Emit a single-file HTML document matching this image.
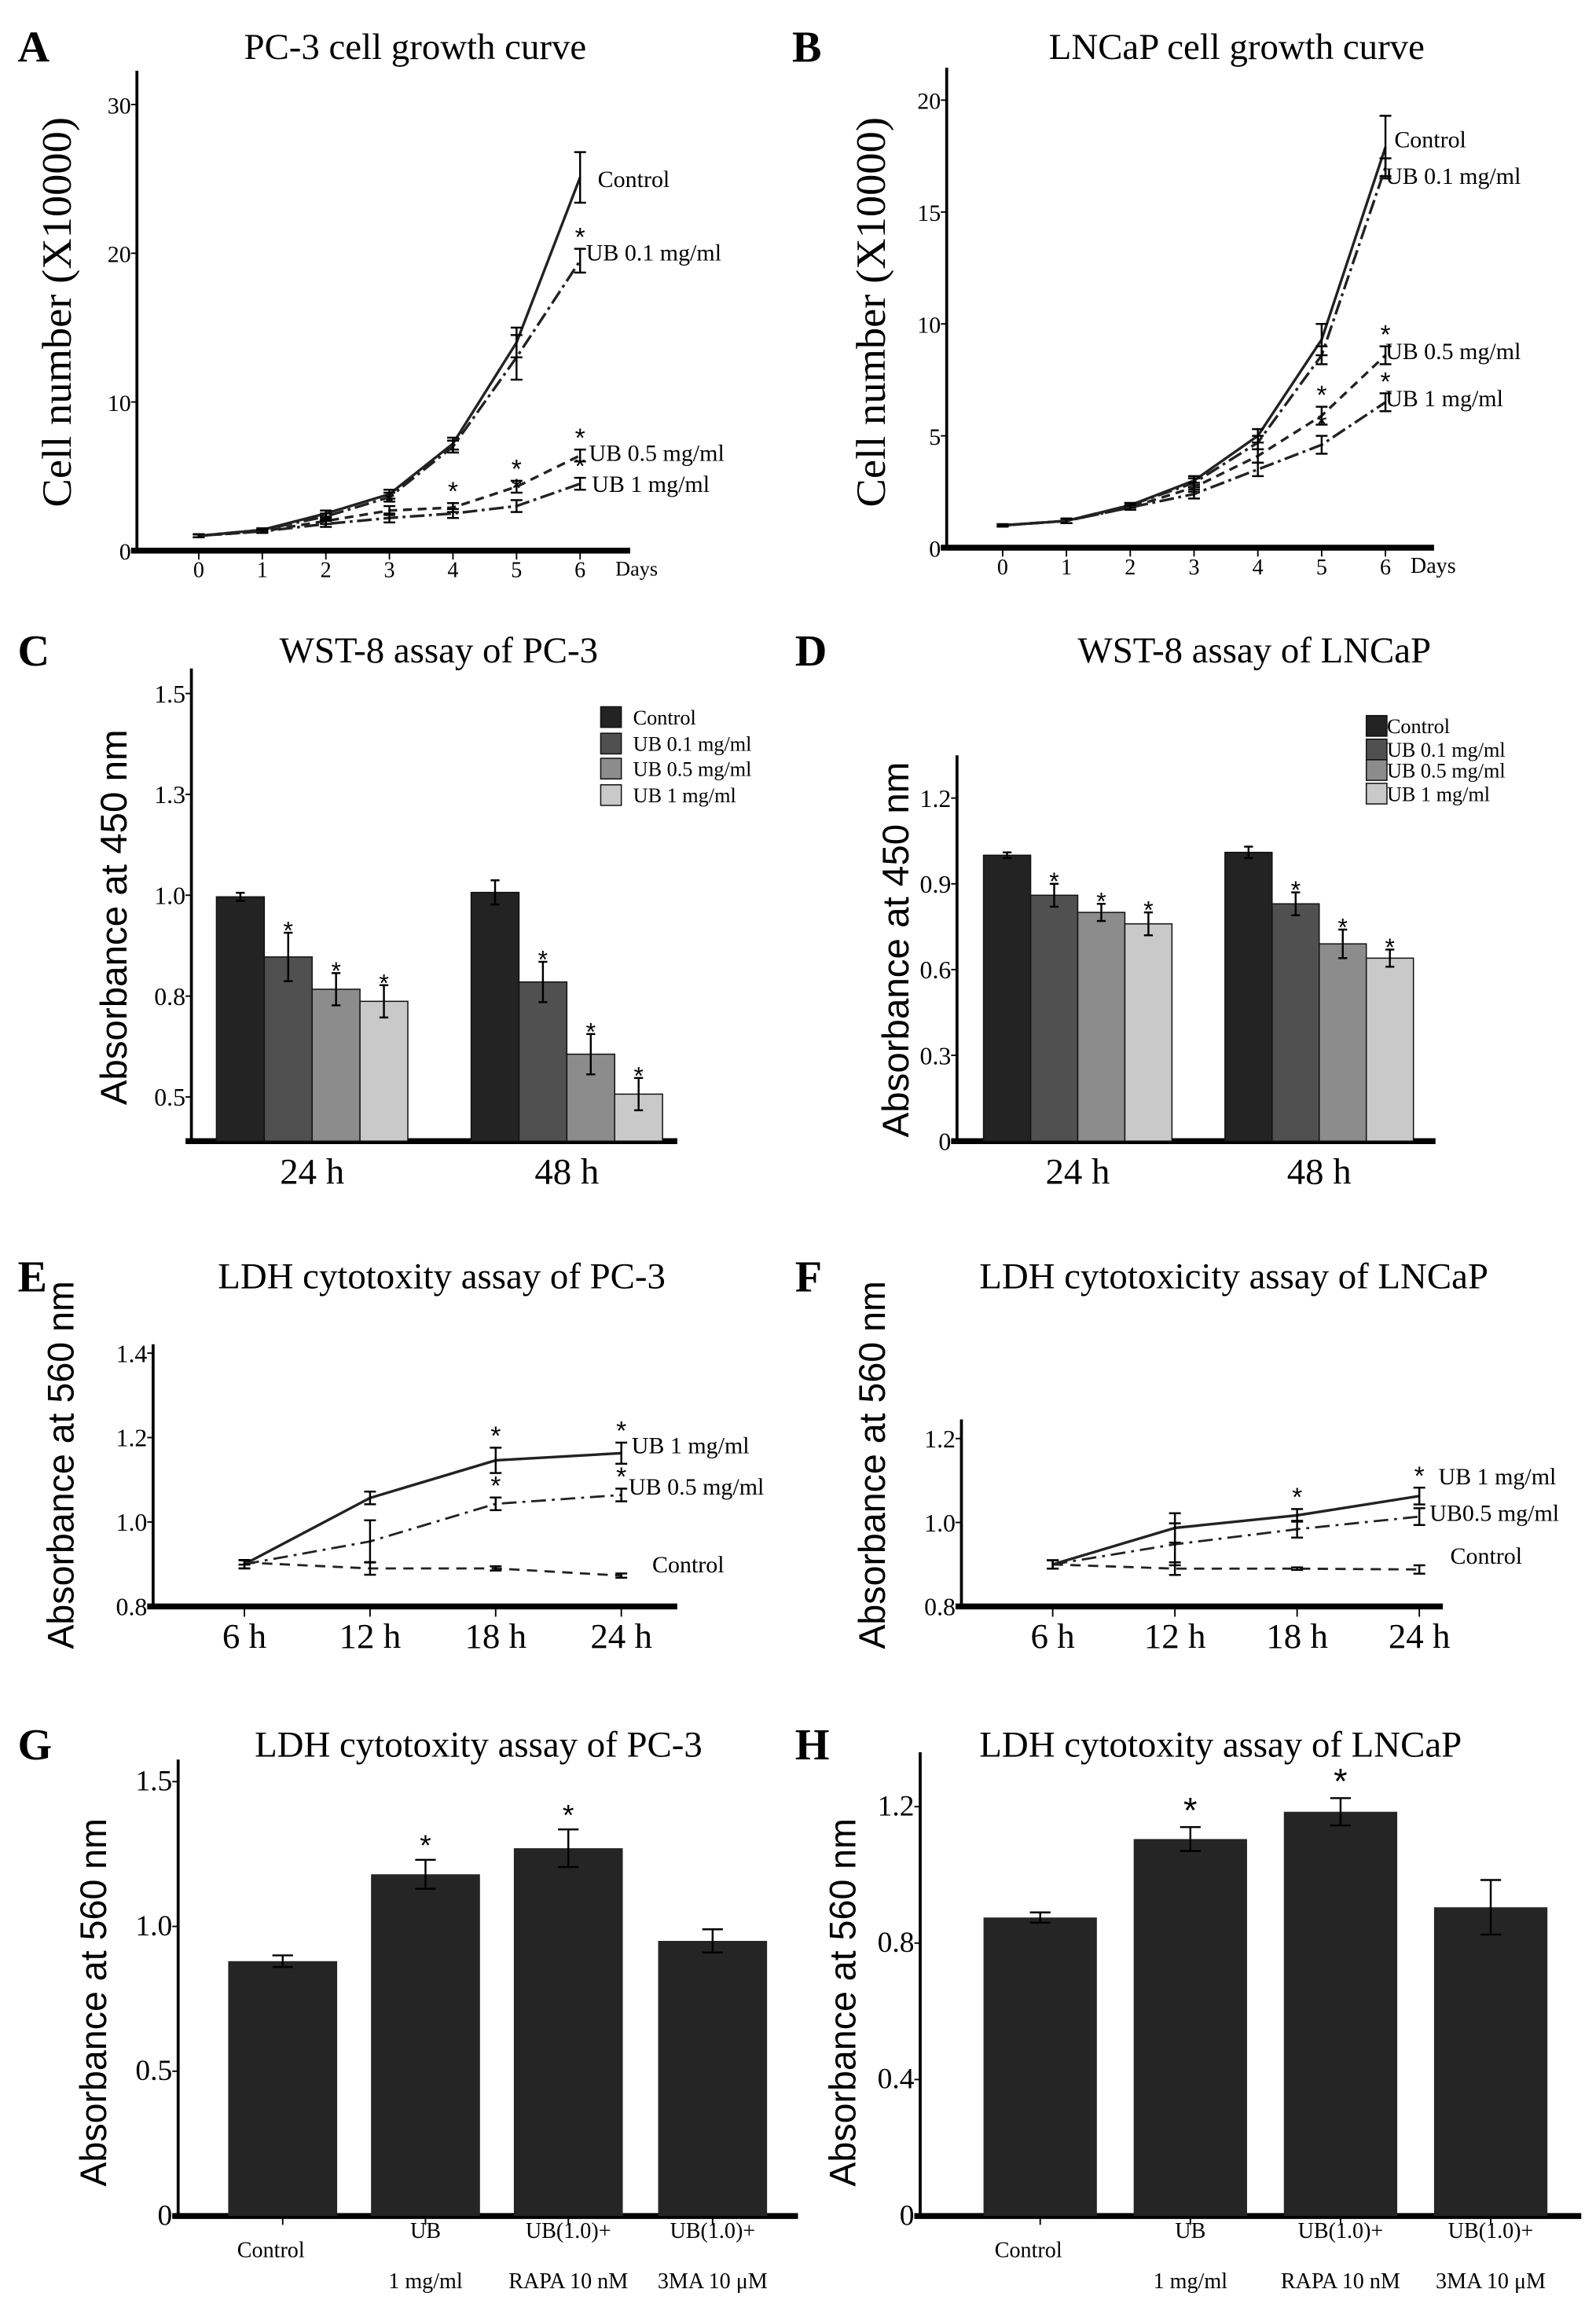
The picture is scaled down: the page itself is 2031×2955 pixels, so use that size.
<!DOCTYPE html>
<html><head><meta charset="utf-8"><style>
html,body{margin:0;padding:0;background:#fff;}
svg{display:block;font-family:"Liberation Serif",serif;}
</style></head><body>
<svg id="fig" width="2031" height="2955" viewBox="0 0 1084 1577" preserveAspectRatio="none" xmlns="http://www.w3.org/2000/svg">
<rect x="0" y="0" width="1084" height="1577" fill="#fff"/>
<g font-weight="bold" font-size="30">
<text x="12" y="42">A</text>
<text x="538" y="42">B</text>
<text x="12" y="452">C</text>
<text x="540" y="452">D</text>
<text x="12" y="877">E</text>
<text x="540" y="877">F</text>
<text x="12" y="1195">G</text>
<text x="540" y="1195">H</text>
</g>
</svg>
<script>
// ---- Panel A data ----
const daysA = [0,1,2,3,4,5,6];
const aControl = [1,1.4,2.5,3.8,7.2,14,25.1];
const aUb01 = [1,1.4,2.3,3.6,7.0,13,19.5];
const aUb05 = [1,1.3,2.0,2.7,2.9,4.3,6.4];
const aUb1 = [1,1.3,1.8,2.2,2.5,3.0,4.5];
const aErrControl = [0.1,0.1,0.2,0.3,0.4,1.0,1.7];
const aErrUb01 = [0.1,0.1,0.2,0.3,0.4,1.5,0.8];
const aErrSmall = [0.1,0.1,0.2,0.3,0.3,0.4,0.4];
const aTicks = [0,10,20,30];
// ---- Panel B data ----
const bControl = [1,1.2,1.9,3,5,9.3,17.9];
const bUb01 = [1,1.2,1.9,2.9,4.7,8.6,17];
const bUb05 = [1,1.2,1.8,2.7,4.1,5.9,8.6];
const bUb1 = [1,1.2,1.8,2.4,3.5,4.6,6.5];
const bErrControl = [0.05,0.1,0.1,0.2,0.3,0.7,1.4];
const bErrSmall = [0.05,0.1,0.1,0.2,0.3,0.4,0.4];
const bTicks = [0,5,10,15,20];
// ---- Panel C data ----
const cGroups = ["24 h","48 h"];
const cControl = [0.996,1.007];
const cUb01 = [0.847,0.785];
const cUb05 = [0.767,0.606];
const cUb1 = [0.737,0.507];
const cErr = [[0.01,0.03],[0.06,0.05],[0.04,0.05],[0.04,0.04]];
const cTickVals = [0.5,0.75,1.0,1.25,1.5];
const cTickLabels = ["0.5","0.8","1.0","1.3","1.5"];
// ---- Panel D data ----
const dControl = [1.0,1.01];
const dUb01 = [0.86,0.83];
const dUb05 = [0.80,0.69];
const dUb1 = [0.76,0.64];
const dErr = [[0.01,0.02],[0.04,0.04],[0.03,0.05],[0.04,0.03]];
const dTickVals = [0,0.3,0.6,0.9,1.2];
const dTickLabels = ["0","0.3","0.6","0.9","1.2"];
// ---- Panel E data ----
const hoursEF = ["6 h","12 h","18 h","24 h"];
const eUb1 = [0.9,1.057,1.146,1.163];
const eUb05 = [0.9,0.954,1.043,1.064];
const eControl = [0.904,0.89,0.89,0.873];
const eErrUb1 = [0.01,0.015,0.03,0.025];
const eErrUb05 = [0.01,0.05,0.015,0.015];
const eErrControl = [0.005,0.015,0.005,0.005];
const eTickVals = [0.8,1.0,1.2,1.4];
// ---- Panel F data ----
const fUb1 = [0.9,0.987,1.017,1.063];
const fUb05 = [0.9,0.948,0.984,1.014];
const fControl = [0.9,0.89,0.89,0.888];
const fErrUb1 = [0.01,0.035,0.015,0.02];
const fErrUb05 = [0.01,0.05,0.02,0.02];
const fErrControl = [0.01,0.015,0.003,0.01];
const fTickVals = [0.8,1.0,1.2];
// ---- Panel G/H data ----
const ghCats = [["Control"],["UB","1 mg/ml"],["UB(1.0)+","RAPA 10 nM"],["UB(1.0)+","3MA 10 μM"]];
const gVals = [0.88,1.18,1.27,0.95];
const gErr = [0.02,0.05,0.065,0.04];
const gStar = [false,true,true,false];
const gTickVals = [0,0.5,1.0,1.5];
const gTickLabels = ["0","0.5","1.0","1.5"];
const hVals = [0.875,1.105,1.185,0.905];
const hErr = [0.015,0.035,0.04,0.08];
const hTickVals = [0,0.4,0.8,1.2];
const hTickLabels = ["0","0.4","0.8","1.2"];

const NS = "http://www.w3.org/2000/svg";
const svg = document.getElementById("fig");
function mk(tag, attrs, parent, txt){
  const e = document.createElementNS(NS, tag);
  for (const k in attrs) e.setAttribute(k, attrs[k]);
  if (txt !== undefined) e.textContent = txt;
  (parent || svg).appendChild(e);
  return e;
}
function lin(d0,d1,r0,r1){return v => r0 + (v-d0)*(r1-r0)/(d1-d0);}

function title(txt, x, y, name){
  const t = mk("text",{x:x,y:y,"font-size":25,"text-anchor":"middle"},svg,txt);
  
  
}
function ylabel(txt, x, y, len, name, sans){
  const t = mk("text",{x:0,y:0,"font-size":sans?25:28,"text-anchor":"middle",transform:`translate(${x},${y}) rotate(-90)`,textLength:len,lengthAdjust:"spacingAndGlyphs","font-family":sans?"Liberation Sans, sans-serif":"Liberation Serif, serif"},svg,txt);
  
  
}
function axes(g, x0, yTop, yBot, xEnd, ticks, labels, yS, fs){
  const ya = mk("line",{x1:x0,y1:yTop,x2:x0,y2:yBot,stroke:"#000","stroke-width":2},g);
  
  
  const xa = mk("line",{x1:x0-4,y1:yBot,x2:xEnd,y2:yBot,stroke:"#000","stroke-width":4},g);
  
  
  ticks.forEach((v,i)=>{
    const y = yS(v);
    mk("line",{x1:x0-4,y1:y,x2:x0,y2:y,stroke:"#000","stroke-width":1},g);
    const t = mk("text",{x:x0-4,y:y+6,"font-size":fs||17,"text-anchor":"end"},g,labels[i]);
    
    
  });
}
function errbar(g,x,y1,y2,w){
  mk("line",{x1:x,y1:y1,x2:x,y2:y2,stroke:"#000","stroke-width":1.3},g);
  mk("line",{x1:x-w,y1:y1,x2:x+w,y2:y1,stroke:"#000","stroke-width":1.3},g);
  mk("line",{x1:x-w,y1:y2,x2:x+w,y2:y2,stroke:"#000","stroke-width":1.3},g);
}
function star(g,x,y,fs){
  const s = mk("text",{x:x,y:y,"font-size":fs||18,"text-anchor":"middle","font-family":"Liberation Sans, sans-serif"},g,"*");
  
  
}
function line(g, xs, vals, errs, xS, yS, dash, name, stars, sw){
  const pts = vals.map((v,i)=>xS(xs[i])+","+yS(v)).join(" ");
  const p = mk("polyline",{points:pts,fill:"none",stroke:"#222","stroke-width":sw||1.8,"stroke-dasharray":dash},g);
  
  
  vals.forEach((v,i)=>{
    if (errs) errbar(g,xS(xs[i]),yS(v+errs[i]),yS(v-errs[i]),4);
    if (stars && stars[i]) star(g,xS(xs[i]),yS(v+(errs?errs[i]:0))-2);
  });
}
function seriesLabel(g,x,y,txt,fs){
  const t = mk("text",{x:x,y:y,"font-size":fs||16},g,txt);
  
  
}

// ===== Panel A =====
(function(){
  const g = mk("g",{});
  
  
  title("PC-3 cell growth curve", 282, 40, "panel-a-title");
  ylabel("Cell number (X10000)", 48, 212, 265, "panel-a-y-axis-title");
  const yS = lin(0,30,374,71), xS = lin(0,6,135,394);
  axes(g,93,48,374,428,aTicks,aTicks.map(String),yS,16);
  daysA.forEach(d=>{
    mk("line",{x1:xS(d),y1:374,x2:xS(d),y2:380,stroke:"#000"},g);
    const t = mk("text",{x:xS(d),y:392,"font-size":15,"text-anchor":"middle"},g,String(d));
    
    
  });
  const dl = mk("text",{x:418,y:391,"font-size":14},g,"Days");
  
  
  line(g,daysA,aControl,aErrControl,xS,yS,"none","line-control");
  line(g,daysA,aUb01,aErrUb01,xS,yS,"10 3 2 3","line-ub-0.1",[0,0,0,0,0,0,1]);
  line(g,daysA,aUb05,aErrSmall,xS,yS,"6 4","line-ub-0.5",[0,0,0,0,1,1,1]);
  line(g,daysA,aUb1,aErrSmall,xS,yS,"10 3 2 3","line-ub-1",[0,0,0,1,0,1,1]);
  seriesLabel(g,406,127,"Control");
  seriesLabel(g,398,177,"UB  0.1 mg/ml");
  seriesLabel(g,400,313,"UB  0.5 mg/ml");
  seriesLabel(g,402,334,"UB 1 mg/ml");
})();

// ===== Panel B =====
(function(){
  const g = mk("g",{});
  
  
  title("LNCaP cell growth curve", 840, 40, "panel-b-title");
  ylabel("Cell number (X10000)", 601, 212, 265, "panel-b-y-axis-title");
  const yS = lin(0,20,372,68), xS = lin(0,6,681,941);
  axes(g,643,46,372,974,bTicks,bTicks.map(String),yS,16);
  daysA.forEach(d=>{
    mk("line",{x1:xS(d),y1:372,x2:xS(d),y2:378,stroke:"#000"},g);
    const t = mk("text",{x:xS(d),y:390,"font-size":15,"text-anchor":"middle"},g,String(d));
    
    
  });
  const dl = mk("text",{x:958,y:389,"font-size":15},g,"Days");
  
  
  line(g,daysA,bControl,bErrControl,xS,yS,"none","line-control");
  line(g,daysA,bUb01,bErrSmall,xS,yS,"10 3 2 3","line-ub-0.1");
  line(g,daysA,bUb05,bErrSmall,xS,yS,"6 4","line-ub-0.5",[0,0,0,0,0,1,1]);
  line(g,daysA,bUb1,bErrSmall,xS,yS,"10 3 2 3","line-ub-1",[0,0,0,0,0,1,1]);
  seriesLabel(g,947,100,"Control");
  seriesLabel(g,941,125,"UB  0.1 mg/ml");
  seriesLabel(g,941,244,"UB  0.5 mg/ml");
  seriesLabel(g,941,276,"UB  1 mg/ml");
})();

// ===== grouped bars C/D =====
const barFills = ["#232323","#505050","#8c8c8c","#c9c9c9"];
function groupedBars(cfg){
  const g = mk("g",{});
  
  
  title(cfg.title, cfg.tx, 450, cfg.name+"-title");
  ylabel(cfg.ylab, cfg.ylx, cfg.yly, 255, cfg.name+"-y-axis-title", true);
  axes(g,cfg.x0,cfg.yTop,cfg.yBot,cfg.xEnd,cfg.tickVals,cfg.tickLabels,cfg.yS,17);
  cfg.series.forEach((vals,si)=>{
    vals.forEach((v,gi)=>{
      const x = cfg.groupX[gi] + si*cfg.bw;
      const r = mk("rect",{x:x,y:cfg.yS(v),width:cfg.bw,height:cfg.yBot-cfg.yS(v),fill:barFills[si],stroke:"#111","stroke-width":0.8},g);
      
      
      const e = cfg.err[si][gi];
      errbar(g,x+cfg.bw/2,cfg.yS(v+e),cfg.yS(v-e),3);
      if (si>0) star(g,x+cfg.bw/2,cfg.yS(v+e)+4,17);
    });
  });
  cfg.groups.forEach((lab,gi)=>{
    const t = mk("text",{x:cfg.groupX[gi]+2*cfg.bw,y:804,"font-size":25,"text-anchor":"middle"},g,lab);
    
    
  });
  cfg.legY.forEach((y,i)=>{
    const sq = mk("rect",{x:cfg.legX,y:y-7,width:14,height:14,fill:barFills[i],stroke:"#111","stroke-width":0.8},g);
    
    
    const t = mk("text",{x:cfg.legX+cfg.legDx,y:y+5,"font-size":14},g,cfg.legLabels[i]);
    
    
  });
}
groupedBars({name:"panel-c-wst8-pc3",title:"WST-8 assay of PC-3",tx:298,ylab:"Absorbance at 450 nm",ylx:86,yly:623,
  x0:130,yTop:454,yBot:775,xEnd:460,yS:lin(0.5,1.5,745,471),tickVals:cTickVals,tickLabels:cTickLabels,
  series:[cControl,cUb01,cUb05,cUb1],err:cErr,groupX:[147,320],bw:32.5,groups:cGroups,
  legX:408,legDx:22,legY:[487,505,522,540],legLabels:["Control","UB  0.1 mg/ml","UB  0.5 mg/ml","UB    1 mg/ml"]});
groupedBars({name:"panel-d-wst8-lncap",title:"WST-8 assay of LNCaP",tx:852,ylab:"Absorbance at 450 nm",ylx:617,yly:645,
  x0:650,yTop:513,yBot:775,xEnd:975,yS:lin(0,1.2,775,542),tickVals:dTickVals,tickLabels:dTickLabels,
  series:[dControl,dUb01,dUb05,dUb1],err:dErr,groupX:[668,832],bw:32,groups:cGroups,
  legX:928,legDx:14,legY:[493,509,523,539],legLabels:["  Control","UB  0.1 mg/ml","UB  0.5 mg/ml","UB  1 mg/ml"]});

// ===== E / F =====
function ldhLine(cfg){
  const g = mk("g",{});
  
  
  title(cfg.title, cfg.tx, 875, cfg.name+"-title");
  ylabel("Absorbance at 560 nm", cfg.ylx, 995, 250, cfg.name+"-y-axis-title", true);
  axes(g,cfg.x0,cfg.yTop,1091,cfg.xEnd,cfg.tickVals,cfg.tickVals.map(v=>v.toFixed(1)),cfg.yS,17);
  const idx = [0,1,2,3];
  const xS = i => cfg.px[0] + i*(cfg.px[1]-cfg.px[0])/3;
  hoursEF.forEach((h,i)=>{
    mk("line",{x1:xS(i),y1:1091,x2:xS(i),y2:1098,stroke:"#000"},g);
    const t = mk("text",{x:xS(i),y:1119,"font-size":24,"text-anchor":"middle"},g,h);
    
    
  });
  line(g,idx,cfg.ub1,cfg.eub1,xS,cfg.yS,"none","line-ub-1",[0,0,1,1],1.8);
  line(g,idx,cfg.ub05,cfg.eub05,xS,cfg.yS,"10 4 2 4","line-ub-0.5",cfg.s05,1.5);
  line(g,idx,cfg.ctrl,cfg.ectrl,xS,cfg.yS,"7 5","line-control",null,1.5);
  cfg.labels.forEach(l=>seriesLabel(g,l[0],l[1],l[2],16));
}
ldhLine({name:"panel-e-ldh-pc3",title:"LDH cytotoxity assay of PC-3",tx:300,ylx:50,x0:104,yTop:913,xEnd:460,
  yS:lin(0.8,1.4,1091,919),tickVals:eTickVals,px:[166,422],ub1:eUb1,ub05:eUb05,ctrl:eControl,
  eub1:eErrUb1,eub05:eErrUb05,ectrl:eErrControl,s05:[0,0,1,1],
  labels:[[429,987,"UB  1 mg/ml"],[427,1015,"UB 0.5 mg/ml"],[443,1068,"Control"]]});
ldhLine({name:"panel-f-ldh-lncap",title:"LDH cytotoxicity assay of LNCaP",tx:838,ylx:601,x0:653,yTop:964,xEnd:980,
  yS:lin(0.8,1.2,1091,977),tickVals:fTickVals,px:[715,964],ub1:fUb1,ub05:fUb05,ctrl:fControl,
  eub1:fErrUb1,eub05:fErrUb05,ectrl:fErrControl,s05:[0,0,0,0],
  labels:[[977,1008,"UB 1 mg/ml"],[971,1033,"UB0.5 mg/ml"],[985,1062,"Control"]]});

// ===== G / H =====
function simpleBars(cfg){
  const g = mk("g",{});
  
  
  title(cfg.title, cfg.tx, 1193, cfg.name+"-title");
  ylabel("Absorbance at 560 nm", cfg.ylx, 1360, 250, cfg.name+"-y-axis-title", true);
  axes(g,cfg.x0,cfg.yTop,1505,cfg.xEnd,cfg.tickVals,cfg.tickLabels,cfg.yS,20);
  cfg.vals.forEach((v,i)=>{
    const x = cfg.bx[i];
    const r = mk("rect",{x:x,y:cfg.yS(v),width:cfg.bw,height:1505-cfg.yS(v),fill:"#252525"},g);
    
    
    errbar(g,x+cfg.bw/2,cfg.yS(v+cfg.err[i]),cfg.yS(v-cfg.err[i]),7);
    if (gStar[i]) star(g,x+cfg.bw/2,cfg.yS(v+cfg.err[i])-3,cfg.sfs);
    mk("line",{x1:x+cfg.bw/2,y1:1505,x2:x+cfg.bw/2,y2:1511,stroke:"#000"},g);
    const lab = ghCats[i];
    if (lab.length===1){
      const t = mk("text",{x:x+cfg.bw/2-8,y:1533,"font-size":15,"text-anchor":"middle"},g,lab[0]);
      
      
    } else {
      lab.forEach((s,j)=>{
        const t = mk("text",{x:x+cfg.bw/2,y:1520+j*34,"font-size":15,"text-anchor":"middle"},g,s);
        
        
      });
    }
  });
}
simpleBars({name:"panel-g-ldh-pc3",title:"LDH cytotoxity assay of PC-3",tx:325,ylx:72,x0:121,yTop:1195,xEnd:542,
  yS:lin(0,1.5,1505,1210),tickVals:gTickVals,tickLabels:gTickLabels,vals:gVals,err:gErr,
  bx:[155,252,349,447],bw:74,sfs:20});
simpleBars({name:"panel-h-ldh-lncap",title:"LDH cytotoxity assay of LNCaP",tx:829,ylx:581,x0:625,yTop:1190,xEnd:1074,
  yS:lin(0,1.2,1505,1227),tickVals:hTickVals,tickLabels:hTickLabels,vals:hVals,err:hErr,
  bx:[668,770,872,974],bw:77,sfs:24});
</script>
</body></html>
